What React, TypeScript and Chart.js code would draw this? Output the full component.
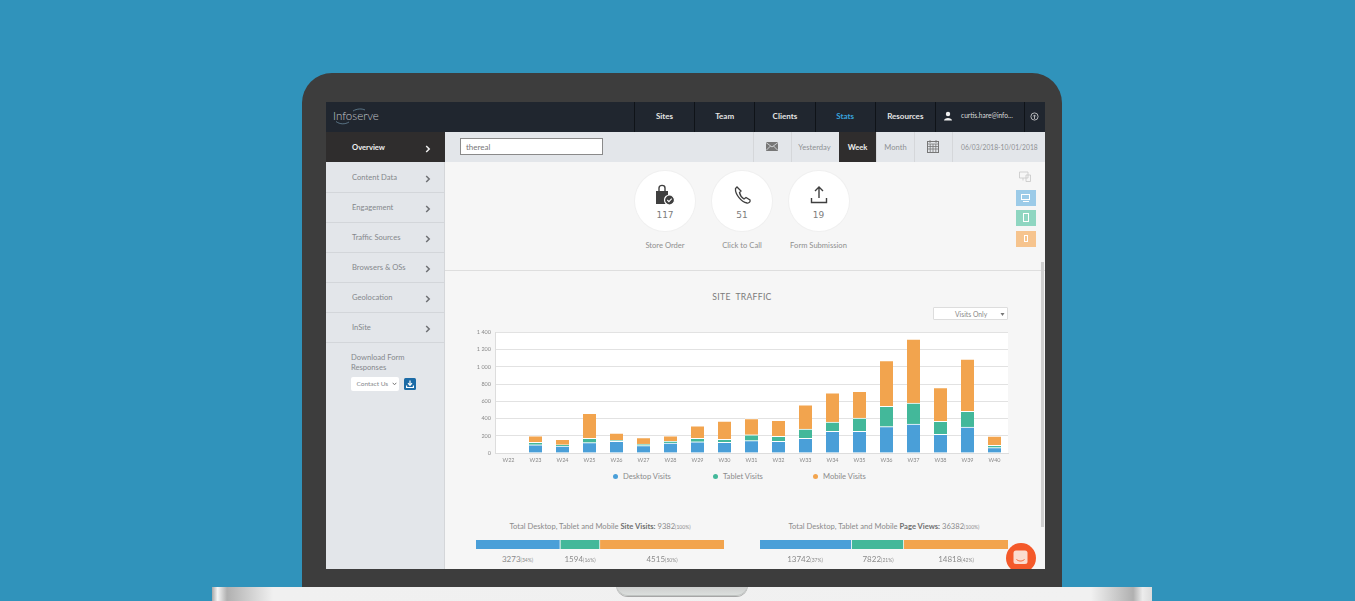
import { useRef, useEffect } from 'react';
import { Chart, registerables } from 'chart.js';

Chart.register(...registerables);

const weeks = ['W22', 'W23', 'W24', 'W25', 'W26', 'W27', 'W28', 'W29', 'W30', 'W31', 'W32', 'W33', 'W34', 'W35', 'W36', 'W37', 'W38', 'W39', 'W40'];
const desktopVisits = [0, 96, 81, 120, 135, 85, 116, 131, 123, 143, 135, 170, 251, 251, 305, 336, 216, 301, 62];
const tabletVisits = [0, 27, 15, 50, 12, 19, 19, 39, 35, 69, 58, 108, 108, 154, 235, 243, 150, 181, 27];
const mobileVisits = [0, 76, 64, 291, 83, 76, 64, 145, 211, 188, 187, 280, 338, 311, 531, 742, 392, 608, 106];

const siteVisitTotals = [3273, 1594, 4515];
const siteVisitShares = [34, 16, 50];
const pageViewTotals = [13742, 7822, 14818];
const pageViewShares = [37, 21, 42];

const seriesNames = ['Desktop Visits', 'Tablet Visits', 'Mobile Visits'];
const seriesColors = ['#4a9fd8', '#43b89a', '#f2a44e'];

const navItems = ['Sites', 'Team', 'Clients', 'Stats', 'Resources'];
const sideItems = ['Overview', 'Content Data', 'Engagement', 'Traffic Sources', 'Browsers & OSs', 'Geolocation', 'InSite'];

const UI_FONT = 'Lato, "Open Sans", sans-serif';

const plotBackground = {
  id: 'plotBackground',
  beforeDraw(chart: Chart) {
    const { ctx, chartArea } = chart;
    ctx.save();
    ctx.fillStyle = '#ffffff';
    ctx.fillRect(chartArea.left, chartArea.top, chartArea.width, chartArea.height);
    ctx.restore();
  },
};

function TrafficChart() {
  const ref = useRef<HTMLCanvasElement>(null);

  useEffect(() => {
    if (!ref.current) return;
    const chart = new Chart(ref.current, {
      type: 'bar',
      data: {
        labels: weeks,
        datasets: [desktopVisits, tabletVisits, mobileVisits].map((values, i) => ({
          label: seriesNames[i],
          data: values,
          backgroundColor: (c: any) => (c.raw > 0 ? seriesColors[i] : 'transparent'),
          borderColor: '#ffffff',
          borderWidth: (c: any) => ({ top: c.raw > 0 ? 1 : 0, left: 0, right: 0, bottom: 0 }),
          borderSkipped: false,
          barThickness: 13,
        })),
      },
      options: {
        animation: false,
        responsive: false,
        layout: { padding: { top: 7, right: 7, left: 0, bottom: 0 } },
        plugins: { legend: { display: false }, tooltip: { enabled: false } },
        scales: {
          x: {
            stacked: true,
            grid: { display: false, drawTicks: false },
            border: { color: '#dddddd' },
            ticks: { color: '#8a8a8a', font: { size: 5.5, family: UI_FONT }, padding: 4, maxRotation: 0, autoSkip: false },
            afterFit: (s: any) => { s.height = 17; },
          },
          y: {
            stacked: true,
            min: 0,
            max: 1400,
            grid: { color: '#e2e2e2', drawTicks: false },
            border: { color: '#dddddd' },
            ticks: {
              stepSize: 200,
              color: '#8a8a8a',
              font: { size: 5.5, family: UI_FONT },
              padding: 4,
              callback: (v: any) => String(v).replace(/\B(?=(\d{3})+$)/g, ' '),
            },
            afterFit: (s: any) => { s.width = 30; },
          },
        },
      },
      plugins: [plotBackground],
    });
    return () => { chart.destroy(); };
  }, []);

  return <canvas ref={ref} width={550} height={145} style={{ position: 'absolute', left: 465, top: 325, width: 550, height: 145 }} />;
}

function TotalBar({ values, left }: { values: number[]; left: number }) {
  const ref = useRef<HTMLCanvasElement>(null);

  useEffect(() => {
    if (!ref.current) return;
    const chart = new Chart(ref.current, {
      type: 'bar',
      data: {
        labels: [''],
        datasets: values.map((v, i) => ({
          data: [v],
          backgroundColor: seriesColors[i],
          borderColor: '#f6f6f6',
          borderWidth: { left: 0, right: i < 2 ? 1 : 0, top: 0, bottom: 0 },
          borderSkipped: false,
          barPercentage: 1,
          categoryPercentage: 1,
        })),
      },
      options: {
        indexAxis: 'y',
        animation: false,
        responsive: false,
        plugins: { legend: { display: false }, tooltip: { enabled: false } },
        scales: {
          x: { stacked: true, display: false, min: 0, max: 100 },
          y: { stacked: true, display: false },
        },
      },
    });
    return () => { chart.destroy(); };
  }, [values]);

  return <canvas ref={ref} width={248} height={9} style={{ position: 'absolute', left, top: 539.5, width: 248, height: 9 }} />;
}

function Txt({ x, y, w, align = 'left', size = 7.6, color = '#8b8b8b', weight = 400, family = UI_FONT, style, children }: any) {
  return (
    <div style={{
      position: 'absolute', left: x, top: y, width: w, textAlign: align, fontSize: size, color,
      fontWeight: weight, fontFamily: family, lineHeight: 1.2, whiteSpace: 'nowrap', ...style,
    }}>{children}</div>
  );
}

function Box({ x, y, w, h, bg, style }: any) {
  return <div style={{ position: 'absolute', left: x, top: y, width: w, height: h, background: bg, ...style }} />;
}

function Chevron({ x, y, color }: any) {
  return (
    <svg style={{ position: 'absolute', left: x, top: y }} width="6" height="8" viewBox="0 0 6 8">
      <path d="M1.2 1 L4.2 4 L1.2 7" fill="none" stroke={color} strokeWidth="1.5" />
    </svg>
  );
}

function Badge({ cx, value, label, children }: any) {
  return (
    <>
      <div style={{ position: 'absolute', left: cx - 30, top: 170.5, width: 60, height: 60, borderRadius: 30, background: '#ffffff', boxShadow: '0 0 0 1px #f0f0f0' }} />
      <svg style={{ position: 'absolute', left: cx - 12, top: 183 }} width="24" height="24" viewBox="0 0 24 24">{children}</svg>
      <Txt x={cx - 30} y={209.5} w={60} align="center" size={9} color="#7d7d7d" family='"DejaVu Sans", sans-serif'>{value}</Txt>
      <Txt x={cx - 50} y={241} w={100} align="center" color="#8f8f8f">{label}</Txt>
    </>
  );
}

function Share({ x, value, pct }: any) {
  return (
    <div style={{ position: 'absolute', left: x - 40, top: 555, width: 80, textAlign: 'center', fontFamily: UI_FONT, color: '#8b8b8b', fontSize: 8, lineHeight: 1.2 }}>
      {value}<span style={{ fontSize: 5 }}>({pct}%)</span>
    </div>
  );
}

export default function App() {
  useEffect(() => {
    document.body.style.margin = '0';
  }, []);

  return (
    <div style={{ position: 'relative', width: 1355, height: 601, overflow: 'hidden', background: '#3093bb' }}>
      {/* laptop body */}
      <Box x={302} y={73} w={760} h={514} bg="#3d3d3d" style={{ borderRadius: '30px 30px 0 0' }} />
      <Box x={212} y={587} w={940} h={14} bg="linear-gradient(90deg,#a8a8a8 0,#f5f5f5 0.6%,#b0b0b0 1.6%,#f0f0f0 6.5%,#f1f1f1 93.5%,#b0b0b0 98%,#ececec 99%,#dcdcdc 100%)" />
      <Box x={616} y={584} w={132} h={12} bg="linear-gradient(180deg,#c8c8c8,#dde1df)" style={{ borderRadius: '0 0 12px 12px', boxShadow: '0 1px 0 #a6a6a6, inset 0 -1px 0 #c0c4c2' }} />
      <Box x={616} y={580} w={132} h={7} bg="#3d3d3d" />

      {/* screen */}
      <div style={{ position: 'absolute', left: 326, top: 102, width: 719, height: 467, overflow: 'hidden', background: '#f6f6f6' }}>
        <div style={{ position: 'absolute', left: -326, top: -102, width: 1355, height: 601 }}>
          {/* top bar */}
          <Box x={326} y={102} w={719} h={30} bg="#20262f" />
          <Txt x={333} y={109} size={11.5} color="#c4c8cc" weight={300}>Infoserve</Txt>
          <svg style={{ position: 'absolute', left: 333, top: 106 }} width="42" height="20" viewBox="0 0 42 20">
            <path d="M3 15.5 C7 18.5 12 18.5 16 16 M20 5 C24 2.5 29 2.5 32 4" fill="none" stroke="#7fa6bd" strokeWidth="0.6" />
          </svg>
          {navItems.map((n, i) => (
            <div key={n}>
              <Box x={634 + i * 60.2} y={102} w={1} h={30} bg="#0f1318" />
              <Txt x={634.5 + i * 60.2} y={111.5} w={60} align="center" size={8} weight={700} color={n === 'Stats' ? '#38a3dc' : '#e4e4e4'}>{n}</Txt>
            </div>
          ))}
          <Box x={935} y={102} w={1} h={30} bg="#0f1318" />
          <Box x={1024} y={102} w={1} h={30} bg="#0f1318" />
          <svg style={{ position: 'absolute', left: 943, top: 111 }} width="10" height="10" viewBox="0 0 10 10">
            <circle cx="5" cy="3" r="2.2" fill="#f0f0f0" />
            <path d="M1 9.5 C1 6 9 6 9 9.5 Z" fill="#f0f0f0" />
          </svg>
          <Txt x={961} y={112} size={6.6} color="#dcdcdc">curtis.hare@info...</Txt>
          <svg style={{ position: 'absolute', left: 1030, top: 112 }} width="9" height="9" viewBox="0 0 9 9">
            <circle cx="4.5" cy="4.5" r="3.6" fill="none" stroke="#d8d8d8" strokeWidth="0.8" />
            <path d="M4.5 7 V3.4 M3.2 4.4 L4.5 2.9 L5.8 4.4" fill="none" stroke="#d8d8d8" strokeWidth="0.8" />
          </svg>

          {/* sidebar */}
          <Box x={326} y={132} w={119} h={437} bg="#e3e6ea" />
          <Box x={444} y={132} w={1} h={437} bg="#d4d6d9" />
          {sideItems.map((s, i) => {
            const top = 132 + i * 30;
            const active = i === 0;
            return (
              <div key={s}>
                {active && <Box x={326} y={top} w={119} h={30} bg="#2f2d2d" />}
                {!active && <Box x={326} y={top + 30} w={119} h={1} bg="#d3d6da" />}
                <Txt x={352} y={top + 10.5} weight={active ? 700 : 400} color={active ? '#f0f0f0' : '#85888c'}>{s}</Txt>
                <Chevron x={425} y={top + 13} color={active ? '#f0f0f0' : '#6e7074'} />
              </div>
            );
          })}
          <Txt x={351} y={353} color="#85888c">Download Form</Txt>
          <Txt x={351} y={363} color="#85888c">Responses</Txt>
          <Box x={351} y={377} w={48} h={14} bg="#ffffff" style={{ borderRadius: 2 }} />
          <Txt x={356.5} y={380} size={6.5} color="#85888c">Contact Us</Txt>
          <svg style={{ position: 'absolute', left: 392, top: 382 }} width="5" height="4" viewBox="0 0 5 4">
            <path d="M0.7 0.8 L2.5 2.8 L4.3 0.8" fill="none" stroke="#777777" strokeWidth="1" />
          </svg>
          <svg style={{ position: 'absolute', left: 404, top: 378 }} width="12" height="12" viewBox="0 0 12 12">
            <rect width="12" height="12" rx="1.5" fill="#1c6ba6" />
            <path d="M6 2.5 V7 M4 5.2 L6 7.4 L8 5.2 M2.6 7.5 V9.5 H9.4 V7.5" fill="none" stroke="#ffffff" strokeWidth="1.2" />
          </svg>

          {/* filter bar */}
          <Box x={445} y={132} w={600} h={30} bg="#e3e6ea" />
          <Box x={460} y={138} w={143} h={17} bg="#ffffff" style={{ border: '1px solid #8a8a8a', boxSizing: 'border-box' }} />
          <Txt x={466} y={142.5} size={8} color="#777777">thereal</Txt>
          {[753, 791, 876, 914, 952].map(x => <Box key={x} x={x} y={132} w={1} h={30} bg="#d5d7da" />)}
          <svg style={{ position: 'absolute', left: 766, top: 142 }} width="12" height="9" viewBox="0 0 12 9">
            <rect width="12" height="9" fill="#777777" />
            <path d="M0 0.5 L6 5 L12 0.5 M0 8.5 L4.5 4 M12 8.5 L7.5 4" fill="none" stroke="#e3e6ea" strokeWidth="0.8" />
          </svg>
          <Txt x={791} y={142.5} w={47} align="center" color="#8f9194">Yesterday</Txt>
          <Box x={839} y={132} w={37} h={30} bg="#2f2d2d" />
          <Txt x={839} y={142.5} w={37} align="center" weight={700} color="#eeeeee">Week</Txt>
          <Txt x={877} y={142.5} w={37} align="center" color="#8f9194">Month</Txt>
          <svg style={{ position: 'absolute', left: 927, top: 140 }} width="12" height="13" viewBox="0 0 12 13">
            <rect x="0.5" y="1.5" width="11" height="11" fill="none" stroke="#777777" />
            <path d="M0.5 4 H11.5 M0.5 6.5 H11.5 M0.5 9 H11.5 M3.2 4 V12 M6 4 V12 M8.8 4 V12 M3 0 V3 M9 0 V3" stroke="#777777" strokeWidth="0.8" />
          </svg>
          <Txt x={961} y={143} size={6.7} color="#8f9194">06/03/2018-10/01/2018</Txt>

          {/* conversion badges */}
          <Badge cx={665} value="117" label="Store Order">
            <path d="M3 8 H15 V21 H3 Z" fill="#3f3f3f" />
            <path d="M6 8 V5 C6 1.5 12 1.5 12 5 V8" fill="none" stroke="#3f3f3f" strokeWidth="1.4" />
            <circle cx="16.5" cy="17" r="5" fill="#3f3f3f" stroke="#ffffff" strokeWidth="1.2" />
            <path d="M14.3 17 L15.9 18.6 L18.7 15.6" fill="none" stroke="#ffffff" strokeWidth="1.1" />
          </Badge>
          <Badge cx={742} value="51" label="Click to Call">
            <path d="M7 4 L5.5 5.5 C5 11 11 19 17 20 C19.5 20.3 20.5 18.5 20 17 L16 14.5 L14 16 C11.5 14.5 10 12 9.5 9.5 L11 8 Z" fill="none" stroke="#3f3f3f" strokeWidth="1.3" />
          </Badge>
          <Badge cx={818.5} value="19" label="Form Submission">
            <path d="M12 15 V4 M8 8 L12 4 L16 8 M4.5 15 V19.5 H19.5 V15" fill="none" stroke="#3f3f3f" strokeWidth="1.4" />
          </Badge>

          {/* device filters */}
          <svg style={{ position: 'absolute', left: 1019, top: 171 }} width="12" height="11" viewBox="0 0 12 11">
            <path d="M0.5 1 H9 V7 H0.5 Z M4 7 V9.5 M7 4 H11.5 V10.5 H7 Z" fill="none" stroke="#c8c8c8" strokeWidth="0.8" />
          </svg>
          <Box x={1015.5} y={190} w={20} h={15.5} bg="#9ccbe8" />
          <Box x={1021} y={194} w={9} h={6} bg="none" style={{ border: '1px solid #ffffff', boxSizing: 'border-box' }} />
          <Box x={1022.5} y={200.5} w={6} h={1.5} bg="#ffffff" />
          <Box x={1015.5} y={210} w={20} h={15.5} bg="#8fd6c1" />
          <Box x={1022.5} y={213} w={6} h={9} bg="none" style={{ border: '1px solid #ffffff', boxSizing: 'border-box' }} />
          <Box x={1015.5} y={231} w={20} h={15.5} bg="#f6c48e" />
          <Box x={1023.5} y={235} w={4} h={7} bg="none" style={{ border: '1px solid #ffffff', boxSizing: 'border-box' }} />

          <Box x={445} y={270} w={600} h={1} bg="#dedede" />
          <Box x={1040.5} y={262} w={3} h={265} bg="#d0d0d0" />

          {/* traffic chart */}
          <Txt x={642} y={292} w={200} align="center" size={8.6} color="#7b7b7b" style={{ letterSpacing: 0.3 }}>SITE&nbsp; TRAFFIC</Txt>
          <Box x={933} y={307} w={75} h={13} bg="#ffffff" style={{ border: '1px solid #dddddd', boxSizing: 'border-box', borderRadius: 1 }} />
          <Txt x={955} y={310} size={6.8} color="#8a8a8a">Visits Only</Txt>
          <svg style={{ position: 'absolute', left: 1000, top: 312.5 }} width="5" height="3" viewBox="0 0 5 3"><path d="M0.5 0 H4.5 L2.5 3 Z" fill="#777777" /></svg>
          <TrafficChart />
          {seriesNames.map((n, i) => (
            <div key={n}>
              <div style={{ position: 'absolute', left: 613 + i * 100, top: 474, width: 4.5, height: 4.5, borderRadius: 3, background: seriesColors[i] }} />
              <Txt x={623 + i * 100} y={472} color="#8b8b8b">{n}</Txt>
            </div>
          ))}

          {/* totals */}
          <Txt x={400} y={521.5} w={400} align="center" color="#8b8b8b">
            Total Desktop, Tablet and Mobile <b style={{ fontWeight: 700, color: '#707070' }}>Site Visits:</b> 9382<span style={{ fontSize: 5 }}>(100%)</span>
          </Txt>
          <Txt x={684} y={521.5} w={400} align="center" color="#8b8b8b">
            Total Desktop, Tablet and Mobile <b style={{ fontWeight: 700, color: '#707070' }}>Page Views:</b> 36382<span style={{ fontSize: 5 }}>(100%)</span>
          </Txt>
          <TotalBar values={siteVisitShares} left={476} />
          <TotalBar values={pageViewShares} left={760} />
          <Share x={517.5} value={siteVisitTotals[0]} pct={siteVisitShares[0]} />
          <Share x={580} value={siteVisitTotals[1]} pct={siteVisitShares[1]} />
          <Share x={662} value={siteVisitTotals[2]} pct={siteVisitShares[2]} />
          <Share x={805} value={pageViewTotals[0]} pct={pageViewShares[0]} />
          <Share x={878} value={pageViewTotals[1]} pct={pageViewShares[1]} />
          <Share x={956} value={pageViewTotals[2]} pct={pageViewShares[2]} />

          {/* chat button */}
          <div style={{ position: 'absolute', left: 1005.5, top: 542.5, width: 30, height: 30, borderRadius: 15, background: '#f4592a' }} />
          <svg style={{ position: 'absolute', left: 1013, top: 549.5 }} width="15" height="15" viewBox="0 0 15 15">
            <rect x="0.5" y="0.5" width="14" height="13.5" rx="2.5" fill="#fbdccf" />
            <path d="M3.5 9.5 C6 11.5 9 11.5 11.5 9.5" fill="none" stroke="#f4592a" strokeWidth="1" />
          </svg>
        </div>
      </div>
    </div>
  );
}
